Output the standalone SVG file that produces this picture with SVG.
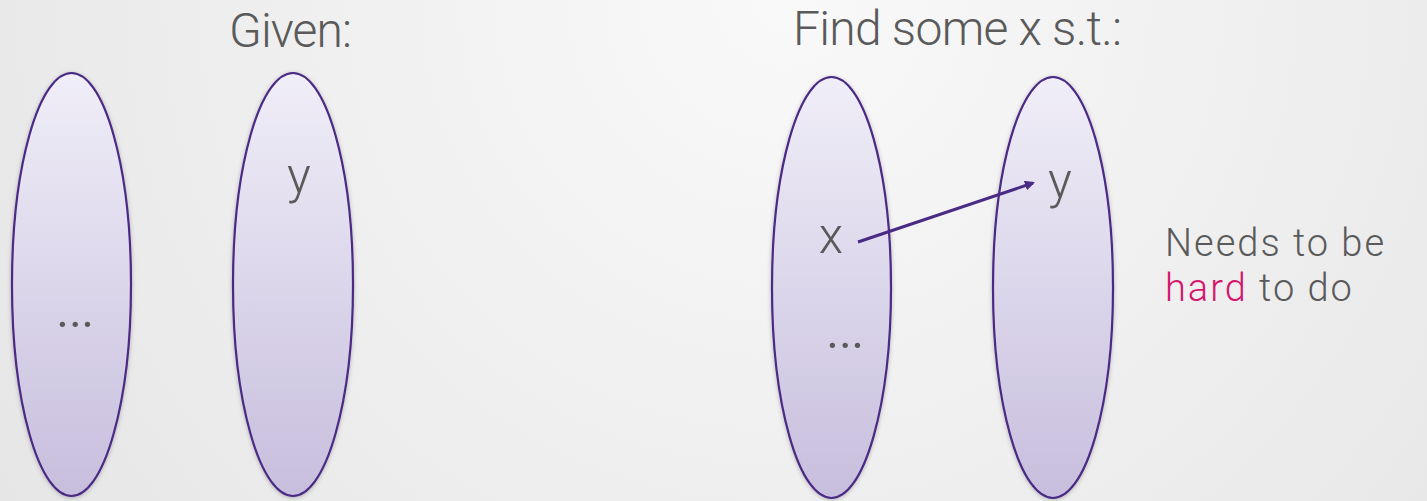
<svg xmlns="http://www.w3.org/2000/svg" width="1427" height="501" viewBox="0 0 1427 501">
<defs>
<radialGradient id="bg" cx="0.55" cy="0" r="1.1" gradientTransform="translate(0.55 0) scale(1 2.8) translate(-0.55 0)">
<stop offset="0" stop-color="#f9f9f9"/>
<stop offset="1" stop-color="#d9d9d9"/>
</radialGradient>
<linearGradient id="ef" x1="0" y1="0" x2="0" y2="1">
<stop offset="0" stop-color="#f0eef8"/>
<stop offset="1" stop-color="#c7bedd"/>
</linearGradient>
<filter id="sh" x="-20%" y="-10%" width="140%" height="120%">
<feDropShadow dx="0" dy="1" stdDeviation="2" flood-color="#000" flood-opacity="0.25"/>
</filter>
<marker id="ah" markerWidth="10" markerHeight="10" refX="8" refY="5" orient="auto" markerUnits="userSpaceOnUse" viewBox="0 0 10 10">
<path d="M0,0 L10,5 L0,10 Z" fill="#4b2a85"/>
</marker>
<style>
.set{fill:url(#ef);stroke:#4b2a85;stroke-width:2.2;filter:url(#sh)}
.t{font-family:Roboto,"Liberation Sans",sans-serif;font-weight:300;fill:#5a5a5a}
.big{font-size:48px}
.lbl{font-size:50px}
.dots{font-size:64px;text-anchor:middle}
.note{font-size:38px;letter-spacing:2px}
.hard{fill:#d4156d}
.conn{stroke:#4b2a85;stroke-width:3;fill:none}
</style>
</defs>
<rect width="1427" height="501" fill="url(#bg)"/>
<text class="t big" x="229" y="47" textLength="123" lengthAdjust="spacing">Given:</text>
<text class="t big" x="793" y="45" textLength="329" lengthAdjust="spacing">Find some x s.t.:</text>
<g id="set-a1">
<ellipse class="set" cx="71.5" cy="284.5" rx="59.5" ry="211.5"/>
<text class="t dots" x="75" y="327">…</text>
</g>
<g id="set-b1">
<ellipse class="set" cx="293" cy="284.5" rx="60" ry="211.5"/>
<text class="t lbl" x="299" y="193" text-anchor="middle">y</text>
</g>
<g id="set-a2">
<ellipse class="set" cx="831.5" cy="287.5" rx="59.5" ry="210.5"/>
<text class="t lbl" x="831" y="253" text-anchor="middle">x</text>
<text class="t dots" x="845" y="348">…</text>
</g>
<g id="set-b2">
<ellipse class="set" cx="1053" cy="287.5" rx="60" ry="210.5"/>
<text class="t lbl" x="1060" y="198" text-anchor="middle">y</text>
</g>
<g id="connectors">
<line class="conn" x1="858" y1="242" x2="1033" y2="183" marker-end="url(#ah)"/>
</g>
<g id="note">
<text class="t note" x="1165" y="256">Needs to be</text>
<text class="t note" x="1165" y="301"><tspan class="hard">hard</tspan> to do</text>
</g>
</svg>
